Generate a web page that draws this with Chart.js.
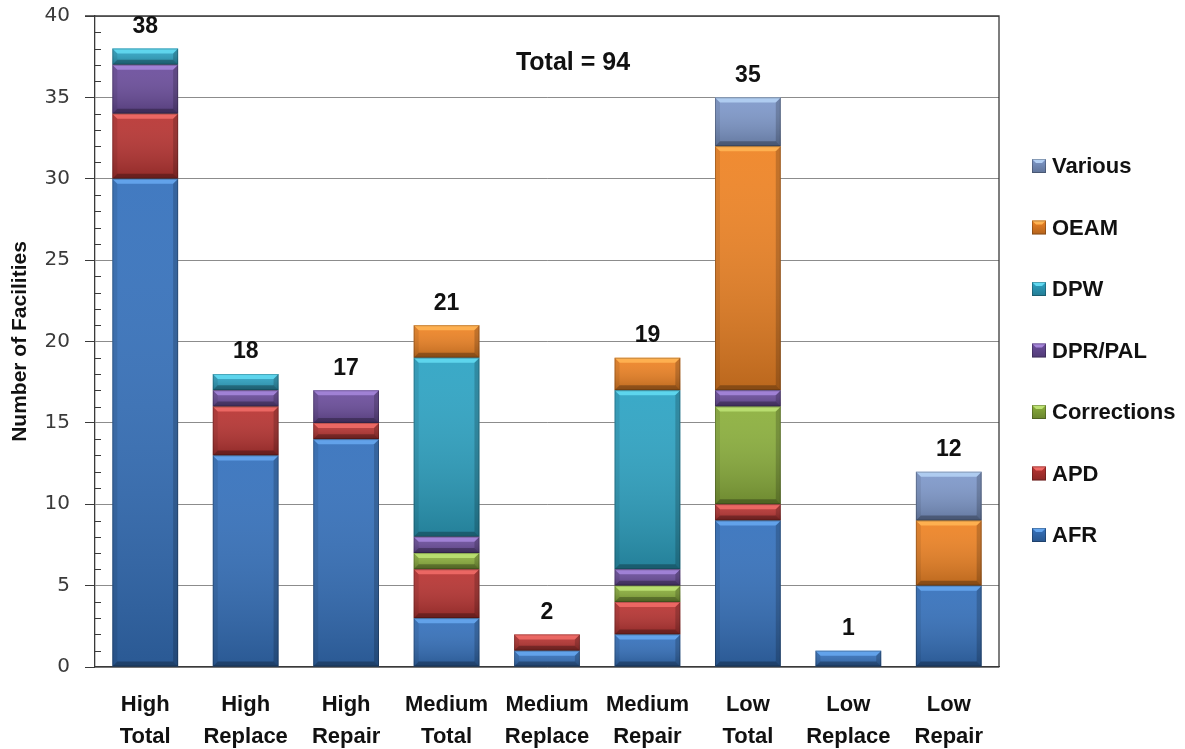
<!DOCTYPE html>
<html>
<head>
<meta charset="utf-8">
<title>Number of Facilities</title>
<script src="https://cdn.jsdelivr.net/npm/chart.js@4"></script>
<style>
  html, body { margin: 0; padding: 0; background: #ffffff; }
  canvas { display: block; }
</style>
</head>
<body>
<canvas id="chart" width="1185" height="749"></canvas>
<script>
// Categories along the x axis (each label is split onto two lines)
const categories = ['High Total', 'High Replace', 'High Repair',
                    'Medium Total', 'Medium Replace', 'Medium Repair',
                    'Low Total', 'Low Replace', 'Low Repair'];

// Facilities per agency, one value per category (null = none)
const afr         = [30, 13, 14, 3, 1, 2, 9, 1, 5];
const apd         = [4, 3, 1, 3, 1, 2, 1, null, null];
const corrections = [null, null, null, 1, null, 1, 6, null, null];
const dprPal      = [3, 1, 2, 1, null, 1, 1, null, null];
const dpw         = [1, 1, null, 11, null, 11, null, null, null];
const oeam        = [null, null, null, 2, null, 2, 15, null, 4];
const various     = [null, null, null, null, null, null, 3, null, 3];

// Y axis range and tick step
const yMin = 0;
const yMax = 40;
const yStep = 5;

// Series names, values and colours (base colour, bevel highlight)
const series = [
  { name: 'AFR',         values: afr,         color: '#3672bd', light: '#66a6ee' },
  { name: 'APD',         values: apd,         color: '#b93533', light: '#f06b67' },
  { name: 'Corrections', values: corrections, color: '#8cb03d', light: '#bde173' },
  { name: 'DPR/PAL',     values: dprPal,      color: '#6c4e9d', light: '#a585da' },
  { name: 'DPW',         values: dpw,         color: '#2ea4c4', light: '#62d9f1' },
  { name: 'OEAM',        values: oeam,        color: '#ef8425', light: '#ffb453' },
  { name: 'Various',     values: various,     color: '#7f99cb', light: '#b4d0f4' }
];

const stackTotals = categories.map((_, i) =>
  series.reduce((s, d) => s + (d.values[i] || 0), 0));
const grandTotal = categories.reduce((s, c, i) =>
  /Total$/.test(c) ? s + stackTotals[i] : s, 0);

const BOLD = '"Liberation Sans", Arial, sans-serif';

// Bevelled look for each bar segment
const bevelPlugin = {
  id: 'bevel',
  afterDatasetsDraw(chart) {
    const ctx = chart.ctx;
    chart.data.datasets.forEach((ds, di) => {
      const meta = chart.getDatasetMeta(di);
      meta.data.forEach((el, i) => {
        if (ds.data[i] == null) return;
        const w = el.width;
        const left = el.x - w / 2, right = el.x + w / 2;
        const top = Math.min(el.y, el.base), bottom = Math.max(el.y, el.base);
        const h = bottom - top;
        if (h < 1) return;
        const b = Math.min(5, h / 3);
        ctx.save();
        // vertical shading
        const g = ctx.createLinearGradient(0, top, 0, bottom);
        g.addColorStop(0, 'rgba(255,255,255,0.06)');
        g.addColorStop(1, 'rgba(0,0,0,0.22)');
        ctx.fillStyle = g;
        ctx.fillRect(left, top, w, h);
        // top bevel
        ctx.fillStyle = series[di].light;
        ctx.globalAlpha = 0.9;
        ctx.beginPath();
        ctx.moveTo(left, top); ctx.lineTo(right, top);
        ctx.lineTo(right - b, top + b); ctx.lineTo(left + b, top + b);
        ctx.closePath(); ctx.fill();
        ctx.globalAlpha = 1;
        // left bevel
        ctx.fillStyle = 'rgba(0,0,0,0.08)';
        ctx.beginPath();
        ctx.moveTo(left, top); ctx.lineTo(left + b, top + b);
        ctx.lineTo(left + b, bottom - b); ctx.lineTo(left, bottom);
        ctx.closePath(); ctx.fill();
        // right bevel
        ctx.fillStyle = 'rgba(0,0,0,0.18)';
        ctx.beginPath();
        ctx.moveTo(right, top); ctx.lineTo(right - b, top + b);
        ctx.lineTo(right - b, bottom - b); ctx.lineTo(right, bottom);
        ctx.closePath(); ctx.fill();
        // bottom bevel
        ctx.fillStyle = 'rgba(0,0,0,0.28)';
        ctx.beginPath();
        ctx.moveTo(left, bottom); ctx.lineTo(left + b, bottom - b);
        ctx.lineTo(right - b, bottom - b); ctx.lineTo(right, bottom);
        ctx.closePath(); ctx.fill();
        // outline
        ctx.strokeStyle = 'rgba(0,0,0,0.22)';
        ctx.lineWidth = 1;
        ctx.strokeRect(left + 0.5, top + 0.5, w - 1, h - 1);
        ctx.restore();
      });
    });
  }
};

// Frame, minor ticks, stack totals, overall total and legend
const decorPlugin = {
  id: 'decor',
  beforeDatasetsDraw(chart) {
    const { ctx, chartArea: a, scales: { y } } = chart;
    ctx.save();
    ctx.strokeStyle = '#3a3a3a';
    ctx.lineWidth = 1.3;
    ctx.beginPath();
    ctx.moveTo(a.left - 10, a.top); ctx.lineTo(a.right, a.top);
    ctx.lineTo(a.right, a.bottom);
    ctx.stroke();
    // minor ticks inside the y axis
    ctx.lineWidth = 1;
    ctx.beginPath();
    for (let v = yMin; v <= yMax; v++) {
      if (v % yStep === 0) continue;
      const py = Math.round(y.getPixelForValue(v)) + 0.5;
      ctx.moveTo(a.left, py); ctx.lineTo(a.left + 6, py);
    }
    ctx.stroke();
    ctx.restore();
  },
  afterDraw(chart) {
    const { ctx, scales: { x, y } } = chart;
    ctx.save();
    ctx.fillStyle = '#111111';
    ctx.textAlign = 'center';
    ctx.textBaseline = 'middle';
    ctx.font = 'bold 23px ' + BOLD;
    stackTotals.forEach((t, i) => {
      ctx.fillText(String(t), x.getPixelForValue(i), y.getPixelForValue(t) - 22);
    });
    ctx.font = 'bold 25px ' + BOLD;
    ctx.fillText('Total = ' + grandTotal, 573, 63);

    // legend, last series on top
    const items = series.slice().reverse();
    const lx = 1032, ty = 166, step = 61.5, s = 14;
    ctx.textAlign = 'left';
    ctx.font = 'bold 22px ' + BOLD;
    items.forEach((it, k) => {
      const cy = ty + k * step;
      const mx = lx, my = cy - s / 2;
      const g = ctx.createLinearGradient(0, my, 0, my + s);
      g.addColorStop(0, it.color);
      g.addColorStop(1, shade(it.color, -0.25));
      ctx.fillStyle = g;
      ctx.fillRect(mx, my, s, s);
      ctx.fillStyle = it.light;
      ctx.beginPath();
      ctx.moveTo(mx, my); ctx.lineTo(mx + s, my);
      ctx.lineTo(mx + s - 4, my + 4); ctx.lineTo(mx + 4, my + 4);
      ctx.closePath(); ctx.fill();
      ctx.strokeStyle = 'rgba(0,0,0,0.25)';
      ctx.strokeRect(mx + 0.5, my + 0.5, s - 1, s - 1);
      ctx.fillStyle = '#111111';
      ctx.fillText(it.name, lx + 20, cy + 1);
    });
    ctx.restore();
  }
};

function shade(hex, amt) {
  const n = parseInt(hex.slice(1), 16);
  const f = c => Math.max(0, Math.min(255, Math.round(c * (1 + amt))));
  const r = f((n >> 16) & 255), g = f((n >> 8) & 255), b = f(n & 255);
  return `rgb(${r},${g},${b})`;
}

new Chart(document.getElementById('chart'), {
  type: 'bar',
  data: {
    labels: categories.map(c => c.split(' ')),
    datasets: series.map(s => ({
      label: s.name,
      data: s.values,
      backgroundColor: s.color,
      borderWidth: 0,
      categoryPercentage: 1,
      barPercentage: 0.655
    }))
  },
  options: {
    responsive: false,
    animation: false,
    layout: { padding: { top: 16, right: 186, bottom: 0, left: 0 } },
    plugins: {
      legend: { display: false },
      tooltip: { enabled: false }
    },
    scales: {
      x: {
        stacked: true,
        grid: { display: false },
        border: { color: '#3a3a3a', width: 1.3 },
        ticks: {
          color: '#111111',
          font: { family: BOLD, size: 22, weight: 'bold', lineHeight: 1.45 },
          padding: 14,
          maxRotation: 0,
          autoSkip: false
        },
        afterFit(scale) {
          scale.height = 82;
          scale.paddingLeft = 0;
          scale.paddingRight = 0;
        }
      },
      y: {
        stacked: true,
        min: yMin,
        max: yMax,
        ticks: {
          stepSize: yStep,
          color: '#3a3a3a',
          font: { family: '"DejaVu Sans", Verdana, sans-serif', size: 20 },
          padding: 15
        },
        grid: { color: '#8c8c8c', lineWidth: 1, tickColor: '#3a3a3a', tickLength: 10 },
        border: { color: '#3a3a3a', width: 1.3 },
        title: {
          display: true,
          text: 'Number of Facilities',
          color: '#111111',
          font: { family: BOLD, size: 21, weight: 'bold' },
          padding: { top: 8, bottom: 0 }
        },
        afterFit(scale) {
          scale.width = 95;
          scale.paddingTop = 0;
          scale.paddingBottom = 0;
        }
      }
    }
  },
  plugins: [bevelPlugin, decorPlugin]
});
</script>
</body>
</html>
